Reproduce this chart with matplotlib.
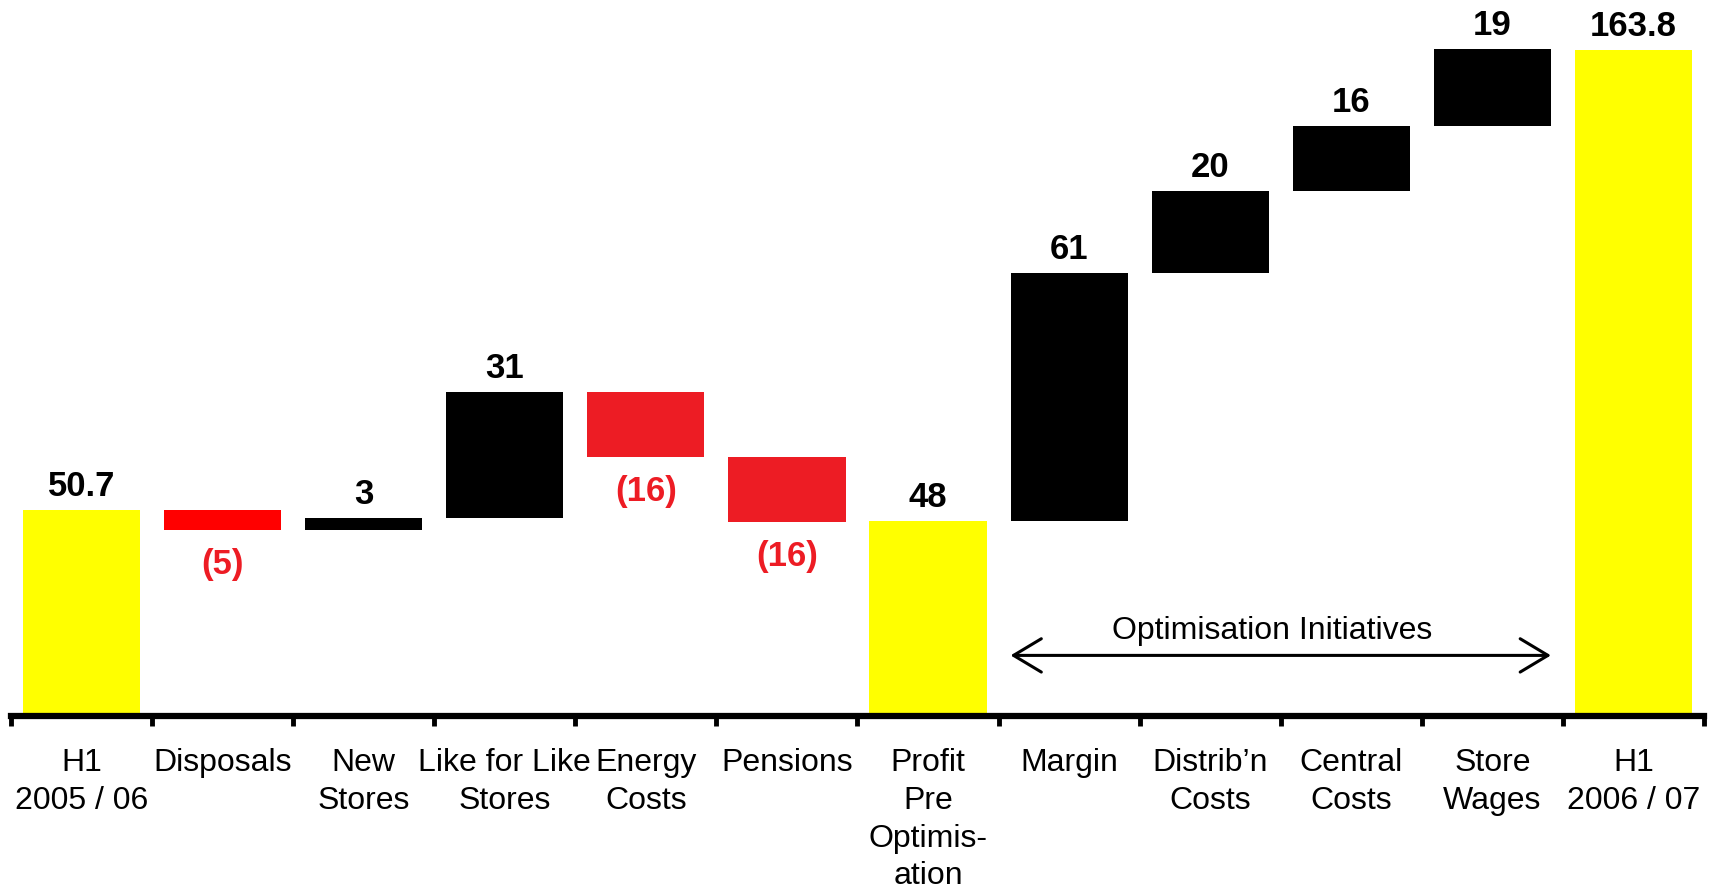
import matplotlib.pyplot as plt
import numpy as np

plt.rcParams['font.family'] = ['Liberation Sans', 'DejaVu Sans']

# waterfall data (GBP m)
categories = ['H1\n2005 / 06', 'Disposals', 'New\nStores', 'Like for Like\nStores',
              'Energy\nCosts', 'Pensions', 'Profit\nPre\nOptimis-\nation', 'Margin',
              'Distrib\u2019n\nCosts', 'Central\nCosts', 'Store\nWages', 'H1\n2006 / 07']
values = [50.7, -5, 3, 31, -16, -16, 48, 61, 20, 16, 19, 163.8]
is_total = [True, False, False, False, False, False, True, False, False, False, False, True]
value_labels = ['50.7', '(5)', '3', '31', '(16)', '(16)', '48', '61', '20', '16', '19', '163.8']

bar_colors = ['#ffff00', '#ff0000', '#000000', '#000000', '#ed1c24', '#ed1c24',
              '#ffff00', '#000000', '#000000', '#000000', '#000000', '#ffff00']

# bottoms of the floating bars
bottoms = []
heights = []
running = 0.0
for v, tot in zip(values, is_total):
    if tot:
        bottoms.append(0.0)
        heights.append(v)
        running = v
    else:
        bottoms.append(running if v >= 0 else running + v)
        heights.append(abs(v))
        running += v

fig = plt.figure(figsize=(17.15, 8.91), dpi=100)
ax = fig.add_axes([11 / 1715, (891 - 716) / 891, 1693 / 1715, 0.776])

x = np.arange(len(categories))
ax.bar(x, heights, bottom=bottoms, width=0.83, color=bar_colors, zorder=2)

for xi, b, h, v, tot, lab in zip(x, bottoms, heights, values, is_total, value_labels):
    if tot or v >= 0:
        ax.annotate(lab, (xi, b + h), xytext=(0, 5), textcoords='offset points',
                    ha='center', va='bottom', fontsize=25, fontweight='bold', color='black')
    else:
        ax.annotate(lab, (xi, b), xytext=(0, -13), textcoords='offset points',
                    ha='center', va='top', fontsize=25, fontweight='bold', color='#ed1c24')

# optimisation bracket
ax.annotate('', xy=(6.585, 14.9), xytext=(10.415, 14.9),
            arrowprops=dict(arrowstyle='<->,head_length=1.0,head_width=0.6',
                            mutation_scale=20, lw=2.2, color='black',
                            shrinkA=0, shrinkB=0))
ax.text(8.44, 21, 'Optimisation Initiatives', ha='center', va='center', fontsize=23)

ax.set_xlim(-0.5, 11.5)
ax.set_ylim(0, 170)
for s in ['top', 'left', 'right']:
    ax.spines[s].set_visible(False)
ax.spines['bottom'].set_linewidth(4.5)
ax.set_yticks([])

ax.set_xticks(x)
ax.set_xticklabels(categories, fontsize=23, linespacing=1.34)
ax.tick_params(axis='x', which='major', length=0, pad=23)
ax.set_xticks(np.arange(-0.5, 12, 1), minor=True)
ax.tick_params(axis='x', which='minor', length=7, width=3.5, color='black')

fig.savefig('out.png', dpi=100)
